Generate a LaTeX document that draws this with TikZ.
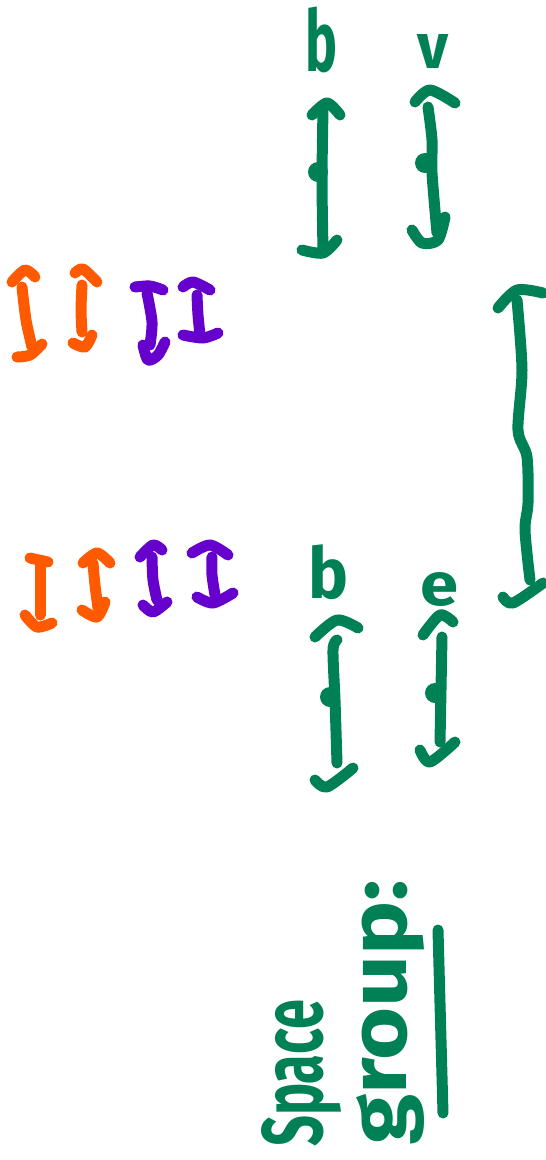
\documentclass[tikz,border=0pt]{standalone}
\usepackage{fontspec}
\setmainfont{Fira Sans}
\usepackage{graphicx}
\definecolor{mgreen}{RGB}{0,128,85}
\definecolor{morange}{RGB}{255,90,0}
\definecolor{mpurple}{RGB}{102,0,204}
\begin{document}
\begin{tikzpicture}[x=1pt,y=-1pt,
  pen/.style={line width=11pt,line cap=round,line join=round},
  gpen/.style={pen,draw=mgreen},
  open/.style={pen,draw=morange},
  ppen/.style={pen,draw=mpurple},
  gdot/.style={fill=mgreen},
  lbl/.style={text=mgreen,inner sep=0pt,font=\bfseries}]
\useasboundingbox (0,0) rectangle (546,1160);
% ---- top green arrows ----
\draw[gpen] plot[smooth] coordinates {(312,115) (327,103) (340,115)};
\draw[gpen] plot[smooth] coordinates {(323,110) (322,180) (323,250)};
\draw[gpen] plot[smooth] coordinates {(302,250) (323,253) (337,240)};
\fill[gdot] (318,172) circle (10);
\draw[gpen] plot[smooth] coordinates {(415,102) (430,90) (455,103)};
\draw[gpen] plot[smooth] coordinates {(428,107) (432,140) (432,173) (437,233)};
\draw[gpen] plot[smooth] coordinates {(412,230) (422,243) (438,240) (445,217)};
\fill[gdot] (425,163) circle (10);
\node[lbl,anchor=south west] (b1) at (305,73) {\resizebox*{32pt}{66pt}{b}};
\node[lbl,anchor=south west] (v1) at (417,69) {\resizebox*{31pt}{34pt}{v}};
% ---- upper left orange/purple ----
\draw[open] plot[smooth] coordinates {(12,282) (25,270) (35,277)};
\draw[open] plot[smooth] coordinates {(22,287) (26,320) (32,347)};
\draw[open] plot[smooth] coordinates {(17,357) (30,355) (42,344)};
\draw[open] plot[smooth] coordinates {(75,273) (83,269) (97,282)};
\draw[open] plot[smooth] coordinates {(82,285) (81,310) (82,332)};
\draw[open] plot[smooth] coordinates {(73,343) (85,347) (92,335)};
\draw[ppen] plot[smooth] coordinates {(135,287) (150,286) (163,290)};
\draw[ppen] plot[smooth] coordinates {(147,293) (152,322) (150,345)};
\draw[ppen] plot[smooth] coordinates {(143,345) (148,360) (158,355) (165,342)};
\draw[ppen] plot[smooth] coordinates {(183,287) (193,282) (210,290)};
\draw[ppen] plot[smooth] coordinates {(197,295) (198,315) (200,335)};
\draw[ppen] plot[smooth] coordinates {(183,335) (203,338) (218,333)};
% ---- lower left orange/purple ----
\draw[open] (30,558) -- (48,562);
\draw[open] (40,565) -- (40,615);
\draw[open] plot[smooth] coordinates {(25,615) (37,627) (52,623)};
\draw[open] plot[smooth] coordinates {(83,563) (97,553) (110,563)};
\draw[open] plot[smooth] coordinates {(93,563) (95,585) (98,608)};
\draw[open] plot[smooth] coordinates {(82,610) (97,617) (105,602)};
\draw[ppen] plot[smooth] coordinates {(140,557) (153,545) (162,550)};
\draw[ppen] plot[smooth] coordinates {(152,557) (153,580) (157,600)};
\draw[ppen] plot[smooth] coordinates {(143,605) (153,612) (167,602)};
\draw[ppen] plot[smooth] coordinates {(192,553) (210,545) (228,555)};
\draw[ppen] plot[smooth] coordinates {(212,557) (212,575) (215,595)};
\draw[ppen] plot[smooth] coordinates {(197,597) (213,603) (233,593)};
% ---- big bracket ----
\draw[gpen] plot[smooth] coordinates {(498,308) (517,290) (543,293)};
\draw[gpen] plot[smooth] coordinates {(517,300) (522,370) (518,430) (527,457) (528,503) (525,530) (530,580)};
\draw[gpen] plot[smooth] coordinates {(503,597) (513,603) (543,583)};
% ---- lower green arrows ----
\node[lbl,anchor=south west] (b2) at (308,600) {\resizebox*{40pt}{55pt}{b}};
\node[lbl,anchor=south west] (e1) at (420,607) {\resizebox*{38pt}{34pt}{e}};
\draw[gpen] plot[smooth] coordinates {(315,637) (337,620) (358,628)};
\draw[gpen] plot[smooth] coordinates {(337,640) (333,650) (335,700) (337,763)};
\draw[gpen] plot[smooth] coordinates {(315,780) (327,787) (353,768)};
\fill[gdot] (330,697) circle (10);
\draw[gpen] plot[smooth] coordinates {(423,635) (440,615) (453,622)};
\draw[gpen] (442,637) -- (440,742);
\draw[gpen] plot[smooth] coordinates {(420,750) (430,762) (455,742)};
\fill[gdot] (435,693) circle (10);
% ---- Space group ----
\node[lbl,rotate=90,anchor=base west] (sp) at (322,1147) {\resizebox*{147pt}{80pt}{Space}};
\node[lbl,rotate=90,anchor=base west] (gr) at (406,1145) {\resizebox*{265pt}{68pt}{group:}};
\draw[gpen] (438,930) -- (443,1113);
\end{tikzpicture}
\end{document}
